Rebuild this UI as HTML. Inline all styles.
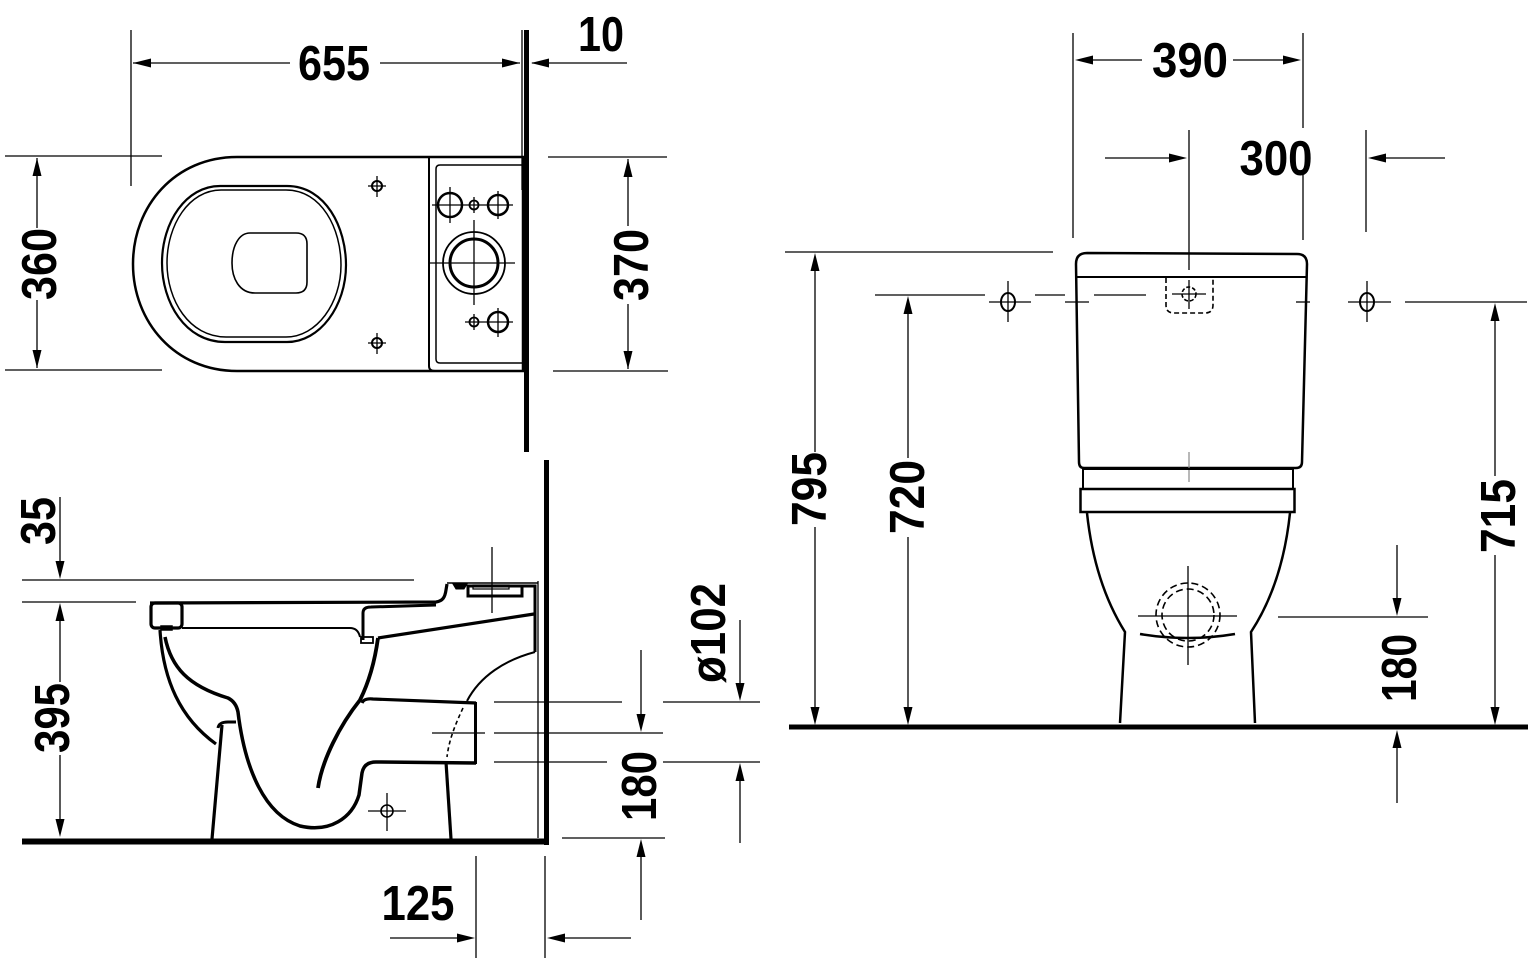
<!DOCTYPE html>
<html><head><meta charset="utf-8"><style>
html,body{margin:0;padding:0;background:#fff;}
svg{display:block;}
text{font-family:"Liberation Sans",Arial,sans-serif;font-weight:bold;fill:#000;}
</style></head><body>
<svg width="1532" height="971" viewBox="0 0 1532 971" xmlns="http://www.w3.org/2000/svg">
<g fill="none" stroke="#000" stroke-linecap="butt">

<!-- ================= PLAN VIEW ================= -->
<!-- dimension 655 -->
<line x1="131" y1="30" x2="131" y2="186" stroke-width="1.3"/>
<line x1="522" y1="30" x2="522" y2="190" stroke-width="1.3"/>
<line x1="133" y1="63" x2="290" y2="63" stroke-width="1.3"/>
<line x1="380" y1="63" x2="520" y2="63" stroke-width="1.3"/>
<!-- wall plan -->
<line x1="526.5" y1="30" x2="526.5" y2="452" stroke-width="5"/>
<!-- 10 arrow -->
<line x1="532" y1="63" x2="627" y2="63" stroke-width="1.3"/>
<!-- 360 -->
<line x1="5" y1="156" x2="162" y2="156" stroke-width="1.3"/>
<line x1="5" y1="370" x2="162" y2="370" stroke-width="1.3"/>
<line x1="37" y1="158" x2="37" y2="228" stroke-width="1.3"/>
<line x1="37" y1="300" x2="37" y2="368" stroke-width="1.3"/>
<!-- 370 -->
<line x1="548" y1="157" x2="667" y2="157" stroke-width="1.3"/>
<line x1="553" y1="371" x2="668" y2="371" stroke-width="1.3"/>
<line x1="628" y1="159" x2="628" y2="226" stroke-width="1.3"/>
<line x1="628" y1="304" x2="628" y2="369" stroke-width="1.3"/>

<!-- toilet plan outline -->
<path d="M237 157 L523 157 L523 371 L237 371 C175 371 133 322 133 264 C133 206 175 157 237 157 Z" stroke-width="2.5"/>
<!-- seat double line -->
<path d="M220 186 L287 186 C326 186 346 228 346 265 C346 306 320 342 287 342 L225 342 C185 342 162 302 162 263 C162 222 186 186 220 186 Z" stroke-width="2.2"/>
<path d="M221 190 L286 190 C322 190 341 229 341 265 C341 303 317 337 286 337 L226 337 C189 337 167 300 167 263 C167 225 189 190 221 190 Z" stroke-width="1.5"/>
<!-- opening -->
<path d="M250 233 L296 233 Q307 233 307 244 L307 282 Q307 293 296 293 L255 293 C239 293 232 278 232 263 C232 246 239 233 250 233 Z" stroke-width="1.6"/>
<!-- seat fixing holes -->
<circle cx="377" cy="186" r="5" stroke-width="2"/>
<line x1="368" y1="186" x2="386" y2="186" stroke-width="1.3"/>
<line x1="377" y1="176" x2="377" y2="197" stroke-width="1.3"/>
<circle cx="377" cy="343" r="5" stroke-width="2"/>
<line x1="368" y1="343" x2="386" y2="343" stroke-width="1.3"/>
<line x1="377" y1="333" x2="377" y2="354" stroke-width="1.3"/>
<!-- tank plan -->
<path d="M429 157 L429 366 Q429 371 435 371" stroke-width="2"/>
<path d="M522 165 L440 165 Q436 165 436 169 L436 359 Q436 363 440 363 L522 363" stroke-width="1.5"/>
<circle cx="450" cy="205" r="12" stroke-width="2.5"/>
<circle cx="474" cy="205" r="4.5" stroke-width="1.8"/>
<circle cx="498" cy="205" r="10" stroke-width="2.5"/>
<line x1="432" y1="205" x2="513" y2="205" stroke-width="1.3"/>
<line x1="450" y1="187" x2="450" y2="223" stroke-width="1.3"/>
<line x1="474" y1="197" x2="474" y2="213" stroke-width="1.3"/>
<line x1="498" y1="191" x2="498" y2="219" stroke-width="1.3"/>
<circle cx="474" cy="263" r="31" stroke-width="1.8"/>
<circle cx="474" cy="263" r="24" stroke-width="3"/>
<line x1="430" y1="263" x2="515" y2="263" stroke-width="1.3"/>
<line x1="474" y1="220" x2="474" y2="305" stroke-width="1.3"/>
<circle cx="474" cy="322" r="4.5" stroke-width="1.8"/>
<circle cx="498" cy="322" r="10" stroke-width="2.5"/>
<line x1="465" y1="322" x2="513" y2="322" stroke-width="1.3"/>
<line x1="474" y1="314" x2="474" y2="330" stroke-width="1.3"/>
<line x1="498" y1="308" x2="498" y2="337" stroke-width="1.3"/>

<!-- ================= SIDE VIEW ================= -->
<line x1="546.5" y1="460" x2="546.5" y2="845" stroke-width="5"/>
<line x1="22" y1="841.5" x2="549" y2="841.5" stroke-width="6"/>
<line x1="538" y1="581" x2="538" y2="838" stroke-width="1.3"/>
<!-- 35 / 395 -->
<line x1="22" y1="580" x2="414" y2="580" stroke-width="1.3"/>
<line x1="22" y1="602" x2="136" y2="602" stroke-width="1.3"/>
<line x1="60" y1="497" x2="60" y2="570" stroke-width="1.3"/>
<line x1="60" y1="612" x2="60" y2="682" stroke-width="1.3"/>
<line x1="60" y1="755" x2="60" y2="828" stroke-width="1.3"/>
<!-- right dims -->
<line x1="494" y1="702" x2="622" y2="702" stroke-width="1.3"/>
<line x1="663" y1="702" x2="760" y2="702" stroke-width="1.3"/>
<line x1="432" y1="733" x2="485" y2="733" stroke-width="1.3"/>
<line x1="494" y1="733" x2="663" y2="733" stroke-width="1.3"/>
<line x1="494" y1="762" x2="607" y2="762" stroke-width="1.3"/>
<line x1="663" y1="762" x2="760" y2="762" stroke-width="1.3"/>
<line x1="562" y1="838" x2="665" y2="838" stroke-width="1.3"/>
<line x1="740" y1="620" x2="740" y2="690" stroke-width="1.3"/>
<line x1="740" y1="773" x2="740" y2="843" stroke-width="1.3"/>
<line x1="641" y1="650" x2="641" y2="722" stroke-width="1.3"/>
<line x1="641" y1="848" x2="641" y2="920" stroke-width="1.3"/>
<!-- 125 -->
<line x1="476" y1="856" x2="476" y2="958" stroke-width="1.3"/>
<line x1="545" y1="856" x2="545" y2="958" stroke-width="1.3"/>
<line x1="390" y1="938" x2="465" y2="938" stroke-width="1.3"/>
<line x1="557" y1="938" x2="631" y2="938" stroke-width="1.3"/>

<!-- side profile -->
<rect x="151" y="603" width="31" height="25" rx="4" stroke-width="3.2"/>
<rect x="161" y="626" width="11" height="4" stroke-width="1.5"/>
<path d="M150 603 L436 602 C443 601 445 597 446 590 L447 584" stroke-width="3.2"/>
<line x1="447" y1="583" x2="538" y2="583" stroke-width="1.5"/>
<path d="M453 584 L467 584 L464 589 L456 589 Z" fill="#000" stroke-width="1"/>
<rect x="468" y="586" width="54" height="10" stroke-width="3"/>
<rect x="473" y="585" width="36" height="4" stroke-width="1.2"/>
<path d="M522 586 L535 586 L535 652" stroke-width="3"/>
<line x1="492" y1="547" x2="492" y2="613" stroke-width="1.3"/>
<path d="M378 638 L534 614" stroke-width="3.2"/>
<path d="M182 628 L350 628 Q358 628 360 637" stroke-width="2"/>
<path d="M363 640 L363 613 Q363 607 371 607 L436 605" stroke-width="3"/>
<rect x="361" y="637" width="12" height="6" stroke-width="1.8"/>
<path d="M160 630 C163 680 180 718 216 744" stroke-width="3.2"/>
<path d="M165 637 C171 667 188 686 228 698 Q236 702 238 712 C245 770 265 815 300 826 C330 833 352 818 359 795 L362 773 Q364 762 376 762 L476 763" stroke-width="3.5"/>
<path d="M218 728 Q219 722 228 722 L236 722" stroke-width="3"/>
<path d="M222 725 L212 839" stroke-width="3.2"/>
<path d="M318 788 C322 760 340 725 360 700 C370 680 375 660 378 638" stroke-width="3.8"/>
<path d="M362 703 Q364 698 373 699 L476 703" stroke-width="3.2"/>
<path d="M475.5 702 L475.5 764" stroke-width="3"/>
<path d="M446 762 L451 839" stroke-width="3.2"/>
<path d="M467 701 C480 676 505 660 535 652" stroke-width="2"/>
<path d="M463 708 C455 725 449 740 447 757" stroke-width="1.6" stroke-dasharray="4 3"/>
<circle cx="387" cy="811" r="6" stroke-width="1.6"/>
<line x1="368" y1="811" x2="406" y2="811" stroke-width="1.3"/>
<line x1="387" y1="793" x2="387" y2="831" stroke-width="1.3"/>

<!-- ================= FRONT VIEW ================= -->
<line x1="789" y1="727" x2="1528" y2="727" stroke-width="5"/>
<!-- 390 -->
<line x1="1073" y1="33" x2="1073" y2="238" stroke-width="1.3"/>
<line x1="1303" y1="33" x2="1303" y2="128" stroke-width="1.3"/>
<line x1="1303" y1="172" x2="1303" y2="240" stroke-width="1.3"/>
<line x1="1085" y1="60" x2="1142" y2="60" stroke-width="1.3"/>
<line x1="1233" y1="60" x2="1291" y2="60" stroke-width="1.3"/>
<!-- 300 -->
<line x1="1189" y1="130" x2="1189" y2="270" stroke-width="1.3"/>
<line x1="1366" y1="130" x2="1366" y2="232" stroke-width="1.3"/>
<line x1="1105" y1="158" x2="1176" y2="158" stroke-width="1.3"/>
<line x1="1378" y1="158" x2="1445" y2="158" stroke-width="1.3"/>
<!-- 795 -->
<line x1="785" y1="252" x2="1053" y2="252" stroke-width="1.3"/>
<line x1="815" y1="262" x2="815" y2="452" stroke-width="1.3"/>
<line x1="815" y1="527" x2="815" y2="716" stroke-width="1.3"/>
<!-- 720 -->
<line x1="875" y1="295" x2="985" y2="295" stroke-width="1.3"/>
<line x1="908" y1="306" x2="908" y2="458" stroke-width="1.3"/>
<line x1="908" y1="537" x2="908" y2="716" stroke-width="1.3"/>
<!-- 715 -->
<line x1="1405" y1="302" x2="1527" y2="302" stroke-width="1.3"/>
<line x1="1495" y1="312" x2="1495" y2="476" stroke-width="1.3"/>
<line x1="1495" y1="555" x2="1495" y2="716" stroke-width="1.3"/>
<!-- 180 right -->
<line x1="1278" y1="617" x2="1428" y2="617" stroke-width="1.3"/>
<line x1="1397" y1="545" x2="1397" y2="607" stroke-width="1.3"/>
<line x1="1397" y1="740" x2="1397" y2="803" stroke-width="1.3"/>
<!-- dash-dot centre line -->
<line x1="1035" y1="295" x2="1065" y2="295" stroke-width="1.3"/>
<line x1="1065" y1="302" x2="1089" y2="302" stroke-width="1.3"/>
<line x1="1094" y1="295" x2="1146" y2="295" stroke-width="1.3"/>
<line x1="1296" y1="302" x2="1310" y2="302" stroke-width="1.3"/>
<!-- holes -->
<ellipse cx="1008" cy="302" rx="7" ry="9" stroke-width="2"/>
<line x1="989" y1="302" x2="1031" y2="302" stroke-width="1.3"/>
<line x1="1008" y1="281" x2="1008" y2="322" stroke-width="1.3"/>
<ellipse cx="1367" cy="302" rx="7" ry="9" stroke-width="2"/>
<line x1="1348" y1="302" x2="1391" y2="302" stroke-width="1.3"/>
<line x1="1367" y1="281" x2="1367" y2="322" stroke-width="1.3"/>
<!-- tank -->
<path d="M1087 253 L1297 254 Q1307 254 1307 264 L1302 462 Q1302 468 1296 468 L1084 468 Q1079 468 1079 462 L1076 264 Q1076 253 1087 253 Z" stroke-width="2.5"/>
<line x1="1077" y1="277" x2="1306" y2="277" stroke-width="2"/>
<path d="M1166 278 L1166 305 Q1166 313 1174 313 L1205 313 Q1213 313 1213 305 L1213 278" stroke-width="1.6" stroke-dasharray="5 3"/>
<circle cx="1189" cy="294" r="7" stroke-width="1.6" stroke-dasharray="4 2"/>
<line x1="1172" y1="294" x2="1206" y2="294" stroke-width="1.3"/>
<line x1="1189" y1="280" x2="1189" y2="309" stroke-width="1.3"/>
<line x1="1189" y1="452" x2="1189" y2="482" stroke-width="1.2" stroke="#888"/>
<!-- bands -->
<rect x="1083" y="469" width="210" height="20" stroke-width="2"/>
<rect x="1080.5" y="489" width="214" height="23" stroke-width="2.5"/>
<!-- bowl -->
<path d="M1087 513 C1092 560 1105 600 1125 632 L1120 723" stroke-width="2.5"/>
<path d="M1290 513 C1285 560 1272 600 1251 632 L1255 723" stroke-width="2.5"/>
<circle cx="1188" cy="615" r="32" stroke-width="1.6" stroke-dasharray="7 4"/>
<circle cx="1188" cy="615" r="26" stroke-width="1.6" stroke-dasharray="7 4"/>
<line x1="1188" y1="566" x2="1188" y2="665" stroke-width="1.3"/>
<line x1="1138" y1="616" x2="1237" y2="616" stroke-width="1.3"/>
<path d="M1140 634 Q1188 642 1235 634" stroke-width="2.5"/>
</g>

<!-- arrowheads -->
<g fill="#000" stroke="none">
<polygon points="133,63 151,58.5 151,67.5"/>
<polygon points="520,63 502,58.5 502,67.5"/>
<polygon points="531,63 549,58.5 549,67.5"/>
<polygon points="37,158 32.5,176 41.5,176"/>
<polygon points="37,368 32.5,350 41.5,350"/>
<polygon points="628,159 623.5,177 632.5,177"/>
<polygon points="628,369 623.5,351 632.5,351"/>
<polygon points="60,579 55.5,561 64.5,561"/>
<polygon points="60,603 55.5,621 64.5,621"/>
<polygon points="60,837 55.5,819 64.5,819"/>
<polygon points="740,701 735.5,683 744.5,683"/>
<polygon points="740,763 735.5,781 744.5,781"/>
<polygon points="641,732 636.5,714 645.5,714"/>
<polygon points="641,839 636.5,857 645.5,857"/>
<polygon points="475,938 457,933.5 457,942.5"/>
<polygon points="547,938 565,933.5 565,942.5"/>
<polygon points="1075,60 1093,55.5 1093,64.5"/>
<polygon points="1301,60 1283,55.5 1283,64.5"/>
<polygon points="1187,158 1169,153.5 1169,162.5"/>
<polygon points="1368,158 1386,153.5 1386,162.5"/>
<polygon points="815,253 810.5,271 819.5,271"/>
<polygon points="815,725 810.5,707 819.5,707"/>
<polygon points="908,296 903.5,314 912.5,314"/>
<polygon points="908,725 903.5,707 912.5,707"/>
<polygon points="1495,303 1490.5,321 1499.5,321"/>
<polygon points="1495,725 1490.5,707 1499.5,707"/>
<polygon points="1397,616 1392.5,598 1401.5,598"/>
<polygon points="1397,730 1392.5,748 1401.5,748"/>
</g>

<!-- labels -->
<g font-size="49">
<text x="334" y="80" text-anchor="middle" textLength="72" lengthAdjust="spacingAndGlyphs">655</text>
<text x="601" y="51" text-anchor="middle" textLength="46" lengthAdjust="spacingAndGlyphs">10</text>
<text x="418" y="920" text-anchor="middle" textLength="73" lengthAdjust="spacingAndGlyphs">125</text>
<text x="1190" y="77" text-anchor="middle" textLength="76" lengthAdjust="spacingAndGlyphs">390</text>
<text x="1276" y="175" text-anchor="middle" textLength="73" lengthAdjust="spacingAndGlyphs">300</text>
<text transform="translate(38,264) rotate(-90)" x="0" y="18" text-anchor="middle" textLength="72" lengthAdjust="spacingAndGlyphs">360</text>
<text transform="translate(630,265) rotate(-90)" x="0" y="18" text-anchor="middle" textLength="72" lengthAdjust="spacingAndGlyphs">370</text>
<text transform="translate(37,521) rotate(-90)" x="0" y="18" text-anchor="middle" textLength="48" lengthAdjust="spacingAndGlyphs">35</text>
<text transform="translate(51,718) rotate(-90)" x="0" y="18" text-anchor="middle" textLength="70" lengthAdjust="spacingAndGlyphs">395</text>
<text transform="translate(707,633) rotate(-90)" x="0" y="18" text-anchor="middle" textLength="100" lengthAdjust="spacingAndGlyphs">ø102</text>
<text transform="translate(638,786) rotate(-90)" x="0" y="18" text-anchor="middle" textLength="70" lengthAdjust="spacingAndGlyphs">180</text>
<text transform="translate(808,489) rotate(-90)" x="0" y="18" text-anchor="middle" textLength="74" lengthAdjust="spacingAndGlyphs">795</text>
<text transform="translate(906,497) rotate(-90)" x="0" y="18" text-anchor="middle" textLength="74" lengthAdjust="spacingAndGlyphs">720</text>
<text transform="translate(1497,516) rotate(-90)" x="0" y="18" text-anchor="middle" textLength="74" lengthAdjust="spacingAndGlyphs">715</text>
<text transform="translate(1398,668) rotate(-90)" x="0" y="18" text-anchor="middle" textLength="68" lengthAdjust="spacingAndGlyphs">180</text>
</g>
</svg>
</body></html>
